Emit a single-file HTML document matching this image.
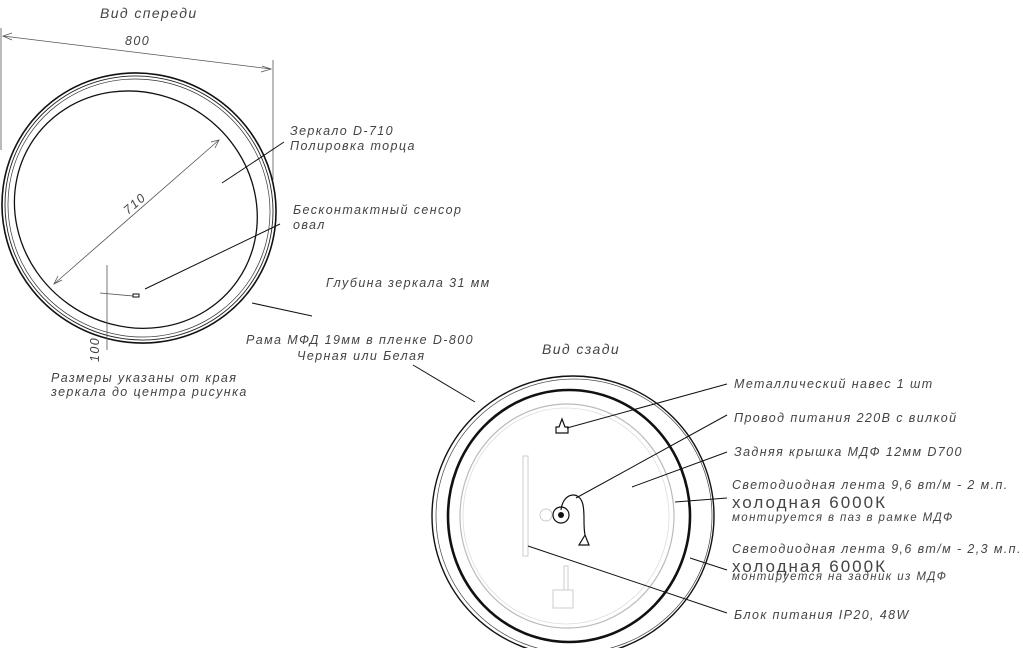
<!DOCTYPE html>
<html><head><meta charset="utf-8"><style>
body{margin:0;background:#fff;}
svg{display:block}
text{font-family:"Liberation Sans",sans-serif;font-style:italic;fill:#444;letter-spacing:1.4px}
</style></head><body>
<svg width="1023" height="648" viewBox="0 0 1023 648" xmlns="http://www.w3.org/2000/svg" font-size="12.5">
<text x="100" y="18" style="font-size:14px">Вид спереди</text>
<text x="125" y="45">800</text>
<line x1="1" y1="28" x2="1" y2="150" stroke="#555" stroke-width="0.8"/>
<line x1="273" y1="60" x2="273" y2="180" stroke="#555" stroke-width="0.8"/>
<line x1="3" y1="36" x2="271" y2="69" stroke="#555" stroke-width="0.8"/>
<polyline points="12,33 3,36 12,40" fill="none" stroke="#555" stroke-width="0.8"/>
<polyline points="262,66 271,69 261,72" fill="none" stroke="#555" stroke-width="0.8"/>
<g transform="rotate(30 139 208)">
<ellipse cx="139" cy="208" rx="138" ry="134" fill="none" stroke="#111" stroke-width="1.6"/>
<ellipse cx="139" cy="208" rx="135" ry="131" fill="none" stroke="#222" stroke-width="0.9"/>
<ellipse cx="139" cy="208" rx="132" ry="128" fill="none" stroke="#333" stroke-width="0.7"/>
</g>
<g transform="rotate(35 137 208)">
<ellipse cx="137" cy="210" rx="124" ry="116" fill="none" stroke="#111" stroke-width="1.3"/>
</g>
<line x1="54" y1="284" x2="219" y2="140" stroke="#555" stroke-width="0.8"/>
<polyline points="58,276 54,284 62,280" fill="none" stroke="#555" stroke-width="0.8"/>
<polyline points="211,142 219,140 215,148" fill="none" stroke="#555" stroke-width="0.8"/>
<text x="0" y="0" transform="translate(128,215) rotate(-41)">710</text>
<line x1="107" y1="265" x2="107" y2="350" stroke="#555" stroke-width="0.8"/>
<line x1="100" y1="293" x2="133" y2="296" stroke="#555" stroke-width="0.8"/>
<rect x="133" y="294" width="6" height="3" fill="none" stroke="#111" stroke-width="1"/>
<text x="0" y="0" transform="translate(99,362) rotate(-90)">100</text>
<line x1="145" y1="289" x2="280" y2="224" stroke="#111" stroke-width="1"/>
<line x1="222" y1="183" x2="284" y2="142" stroke="#111" stroke-width="1"/>
<line x1="252" y1="303" x2="312" y2="316" stroke="#111" stroke-width="1"/>
<text x="290" y="135">Зеркало D-710</text>
<text x="290" y="150">Полировка торца</text>
<text x="293" y="214">Бесконтактный сенсор</text>
<text x="293" y="229">овал</text>
<text x="326" y="287">Глубина зеркала 31 мм</text>
<text x="246" y="344">Рама МФД 19мм в пленке D-800</text>
<text x="297" y="360">Черная или Белая</text>
<text x="51" y="382">Размеры указаны от края</text>
<text x="51" y="396">зеркала до центра рисунка</text>
<text x="542" y="354" style="font-size:14px">Вид сзади</text>
<line x1="413" y1="365" x2="475" y2="402" stroke="#111" stroke-width="1"/>
<ellipse cx="573" cy="516" rx="141" ry="140" fill="none" stroke="#111" stroke-width="1.4"/>
<ellipse cx="574" cy="516" rx="138" ry="137" fill="none" stroke="#444" stroke-width="0.7"/>
<ellipse cx="569" cy="516" rx="121" ry="126" fill="none" stroke="#111" stroke-width="2.6"/>
<ellipse cx="567" cy="516" rx="107" ry="112" fill="none" stroke="#bbb" stroke-width="1.2"/>
<ellipse cx="566" cy="516" rx="103" ry="108" fill="none" stroke="#ddd" stroke-width="0.8"/>
<path d="M559,427 l3,-8 l3,8 h3 v6 h-12 v-6z" fill="none" stroke="#111" stroke-width="1.2"/>
<rect x="523" y="456" width="5" height="100" fill="none" stroke="#ccc" stroke-width="1"/>
<circle cx="546" cy="515" r="6" fill="none" stroke="#ccc"/>
<circle cx="561" cy="515" r="8" fill="none" stroke="#111" stroke-width="1.2"/>
<circle cx="561" cy="515" r="3" fill="#111"/>
<path d="M561,510 C563,492 580,490 583,505 C585,515 583,525 585,535 l-6,10 h10 l-4,-10" fill="none" stroke="#111" stroke-width="1.2"/>
<rect x="553" y="590" width="20" height="18" fill="none" stroke="#ccc"/>
<rect x="564" y="566" width="4" height="24" fill="none" stroke="#ccc"/>
<line x1="567" y1="428" x2="727" y2="384" stroke="#111" stroke-width="1"/>
<line x1="576" y1="498" x2="727" y2="415" stroke="#111" stroke-width="1"/>
<line x1="632" y1="487" x2="727" y2="452" stroke="#111" stroke-width="1"/>
<line x1="675" y1="502" x2="727" y2="498" stroke="#111" stroke-width="1"/>
<line x1="690" y1="558" x2="727" y2="570" stroke="#111" stroke-width="1"/>
<line x1="528" y1="546" x2="727" y2="613" stroke="#111" stroke-width="1"/>
<text x="734" y="388">Металлический навес 1 шт</text>
<text x="734" y="422">Провод питания 220В с вилкой</text>
<text x="734" y="456">Задняя крышка МДФ 12мм D700</text>
<text x="732" y="489">Светодиодная лента 9,6 вт/м - 2 м.п.</text>
<text x="732" y="508" style="font-size:17px;font-style:normal;letter-spacing:2px">холодная 6000К</text>
<text x="732" y="521" style="font-size:11.5px">монтируется в паз в рамке МДФ</text>
<text x="732" y="553">Светодиодная лента 9,6 вт/м - 2,3 м.п.</text>
<text x="732" y="572" style="font-size:17px;font-style:normal;letter-spacing:2px">холодная 6000К</text>
<text x="732" y="580" style="font-size:11.5px">монтируется на задник из МДФ</text>
<text x="734" y="619">Блок питания IP20, 48W</text>
</svg>
</body></html>
